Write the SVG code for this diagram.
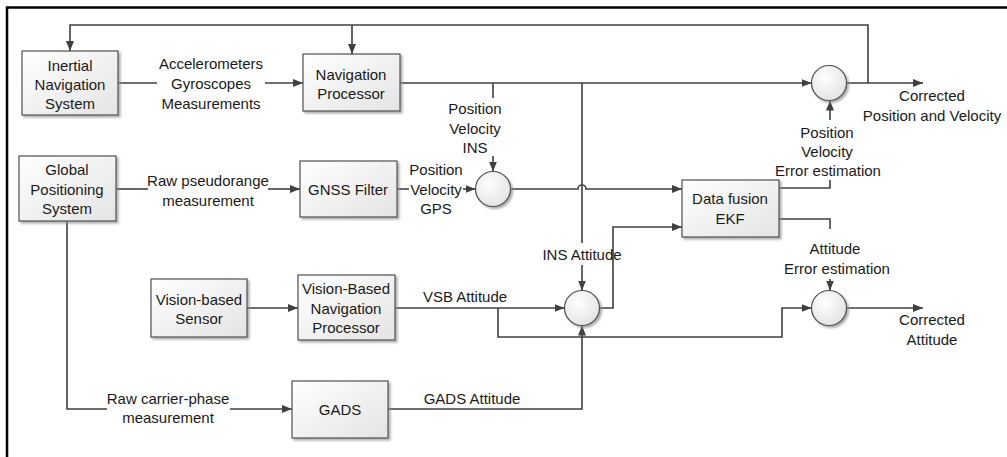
<svg xmlns="http://www.w3.org/2000/svg" width="1007" height="457" viewBox="0 0 1007 457">
<style>
.box{fill:url(#g);stroke:#505050;stroke-width:1.2;filter:url(#sh)}
.c{fill:url(#gc);stroke:#505050;stroke-width:1.2;filter:url(#sh)}
.ln{fill:none;stroke:#404040;stroke-width:1.6}
.ar{marker-end:url(#ah)}
text{font-family:"Liberation Sans",Arial,sans-serif;font-size:15px;fill:#1a1a1a;text-anchor:middle;dominant-baseline:central}
</style>
<defs>
<linearGradient id="g" x1="0" y1="0" x2="1" y2="1"><stop offset="0" stop-color="#ffffff"/><stop offset="1" stop-color="#e4e4e4"/></linearGradient>
<radialGradient id="gc" cx="0.4" cy="0.35" r="0.7"><stop offset="0" stop-color="#ffffff"/><stop offset="1" stop-color="#e2e2e2"/></radialGradient>
<filter id="sh" x="-20%" y="-20%" width="150%" height="150%"><feDropShadow dx="2" dy="2" stdDeviation="1" flood-color="#8a8a8a" flood-opacity="0.7"/></filter>
<marker id="ah" markerUnits="userSpaceOnUse" markerWidth="10" markerHeight="10" viewBox="0 0 10 10" refX="10" refY="5" orient="auto"><path d="M0,1 L10,5 L0,9 z" fill="#404040"/></marker>
</defs>
<g id="border"><path d="M7,457 V7.5 H1007" fill="none" stroke="#000" stroke-width="2.5"/></g>
<g id="connectors">
<path class="ln ar" d="M868,83 V25 H70 V51"/>
<path class="ln ar" d="M352,25 V54"/>
<path class="ln" d="M118,83 H157"/>
<path class="ln ar" d="M265,83 H303"/>
<path class="ln ar" d="M400,83 H811.5"/>
<path class="ln" d="M493,83 V98"/>
<path class="ln ar" d="M493,156 V171.5"/>
<path class="ln" d="M582,83 V243"/>
<path class="ln ar" d="M582,265 V290.5"/>
<path class="ln ar" d="M846.5,83 H923"/>
<path class="ln" d="M116,189 H148"/>
<path class="ln ar" d="M268,189 H300"/>
<path class="ln" d="M397,189 H409"/>
<path class="ln ar" d="M463,189 H475.5"/>
<path class="ln ar" d="M510.5,189 H578 a4,4 0 0 1 8,0 H682"/>
<path class="ln ar" d="M599.5,308 H613 V227 H682"/>
<path class="ln ar" d="M247,308 H298"/>
<path class="ln ar" d="M395,308 H564.5"/>
<path class="ln ar" d="M498,308 V337 H782 V308 H811.5"/>
<path class="ln ar" d="M388,409 H582 V325.5"/>
<path class="ln" d="M67,221 V409 H107"/>
<path class="ln ar" d="M230,409 H292"/>
<path class="ln" d="M779,188 H830 V180"/>
<path class="ln ar" d="M830,120 V100.5"/>
<path class="ln" d="M779,219 H830 V229"/>
<path class="ln ar" d="M830,279 V290.5"/>
<path class="ln ar" d="M846.5,308 H923"/>
</g>
<g id="ins"><rect class="box" x="22" y="51" width="96" height="64"/><text x="70" y="65">Inertial</text><text x="70" y="84">Navigation</text><text x="70" y="103">System</text></g>
<g id="navproc"><rect class="box" x="303" y="54" width="97" height="57"/><text x="351" y="74">Navigation</text><text x="351" y="93">Processor</text></g>
<g id="gps"><rect class="box" x="19" y="156" width="97" height="65"/><text x="67" y="169">Global</text><text x="67" y="189">Positioning</text><text x="67" y="208">System</text></g>
<g id="gnss"><rect class="box" x="300" y="161" width="97" height="56"/><text x="348" y="189">GNSS Filter</text></g>
<g id="datafusion"><rect class="box" x="682" y="180" width="97" height="57"/><text x="730" y="198">Data fusion</text><text x="730" y="218">EKF</text></g>
<g id="vsensor"><rect class="box" x="151" y="279" width="96" height="58"/><text x="199" y="299">Vision-based</text><text x="199" y="318">Sensor</text></g>
<g id="vbnp"><rect class="box" x="298" y="275" width="97" height="65"/><text x="346" y="288">Vision-Based</text><text x="346" y="308">Navigation</text><text x="346" y="327">Processor</text></g>
<g id="gads"><rect class="box" x="292" y="381" width="96" height="57"/><text x="340" y="409">GADS</text></g>
<g id="sum1"><circle class="c" cx="829" cy="83" r="17.5"/></g>
<g id="sum2"><circle class="c" cx="493" cy="189" r="17.5"/></g>
<g id="sum3"><circle class="c" cx="582" cy="308" r="17.5"/></g>
<g id="sum4"><circle class="c" cx="829" cy="308" r="17.5"/></g>
<g id="labels">
<text x="211" y="63">Accelerometers</text><text x="211" y="83">Gyroscopes</text><text x="211" y="103">Measurements</text>
<text x="475" y="108">Position</text><text x="475" y="128">Velocity</text><text x="475" y="147">INS</text>
<text x="932" y="95">Corrected</text><text x="932" y="115">Position and Velocity</text>
<text x="827" y="132">Position</text><text x="827" y="151">Velocity</text><text x="828" y="170">Error estimation</text>
<text x="208" y="180">Raw pseudorange</text><text x="208" y="200">measurement</text>
<text x="436" y="169">Position</text><text x="436" y="189">Velocity</text><text x="436" y="208">GPS</text>
<text x="582" y="254">INS Attitude</text>
<text x="835" y="248">Attitude</text><text x="837" y="268">Error estimation</text>
<text x="465" y="296">VSB Attitude</text>
<text x="932" y="319">Corrected</text><text x="932" y="339">Attitude</text>
<text x="472" y="398">GADS Attitude</text>
<text x="168" y="398">Raw carrier-phase</text><text x="168" y="417">measurement</text>
</g>
</svg>
